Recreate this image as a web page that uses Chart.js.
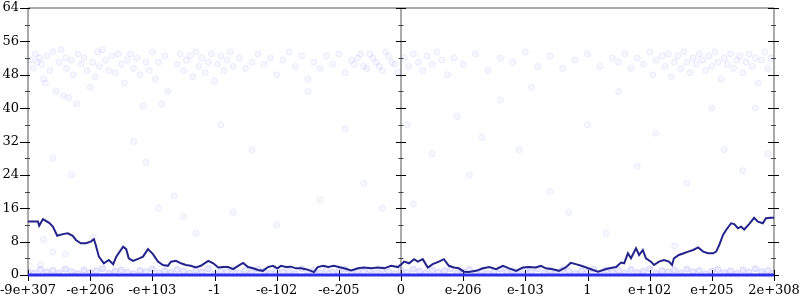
<!DOCTYPE html>
<html lang="en">
  <head>
    <meta charset="UTF-8" />
    <title>Float distribution</title>
    <style>
      body {
        margin: 0;
        padding: 0;
        background-color: white;
      }
      .chart-container {
        width: 800px;
        height: 300px;
      }
    </style>
  </head>
  <body>
    <div class="chart-container">
      <canvas id="myChart"></canvas>
    </div>
    <script src="https://cdn.jsdelivr.net/npm/chart.js@4.4.0/dist/chart.umd.min.js"></script>
    <script>
      // x positions are tick slots: -6 .. 6, one per label
      const xTickLabels = ["-9e+307", "-e+206", "-e+103", "-1", "-e-102", "-e-205", "0",
        "e-206", "e-103", "1", "e+102", "e+205", "2e+308"];
      const xMin = -6;
      const xMax = 6;
      const yMax = 64;
      const yStep = 8;
      const yMinorStep = 4;

      // dark running line
      const lineX = [-6.0, -5.84, -5.82, -5.76, -5.66, -5.6, -5.53, -5.44, -5.36, -5.28, -5.23, -5.15,
        -5.07, -4.99, -4.94, -4.91, -4.86, -4.78, -4.7, -4.63, -4.58, -4.47, -4.42, -4.38, -4.31,
        -4.21, -4.15, -4.07, -3.99, -3.91, -3.83, -3.75, -3.7, -3.62, -3.54, -3.46, -3.38, -3.3,
        -3.22, -3.1, -3.02, -2.94, -2.86, -2.78, -2.7, -2.62, -2.54, -2.46, -2.38, -2.3, -2.22,
        -2.14, -2.06, -1.99, -1.93, -1.85, -1.77, -1.69, -1.61, -1.53, -1.45, -1.4, -1.34, -1.25,
        -1.17, -1.08, -1.0, -0.92, -0.8, -0.69, -0.6, -0.48, -0.37, -0.27, -0.16, -0.05, 0.03,
        0.05, 0.13, 0.21, 0.27, 0.35, 0.43, 0.51, 0.61, 0.69, 0.77, 0.85, 0.93, 1.01, 1.09, 1.21,
        1.32, 1.42, 1.53, 1.64, 1.74, 1.85, 1.96, 2.06, 2.17, 2.25, 2.33, 2.44, 2.54, 2.65, 2.73,
        2.81, 2.9, 2.98, 3.09, 3.17, 3.25, 3.35, 3.46, 3.54, 3.59, 3.65, 3.7, 3.78, 3.83, 3.89,
        3.94, 4.02, 4.07, 4.15, 4.23, 4.31, 4.36, 4.39, 4.47, 4.55, 4.62, 4.7, 4.78, 4.86, 4.94,
        5.02, 5.07, 5.12, 5.18, 5.23, 5.31, 5.36, 5.42, 5.47, 5.52, 5.6, 5.68, 5.74, 5.82, 5.87,
        5.95, 6.0];
      const lineY = [12.8, 12.8, 11.8, 13.4, 12.5, 11.6, 9.4, 9.8, 10.0, 9.4, 8.4, 7.6,
        7.6, 8.0, 8.6, 7.2, 4.4, 2.8, 3.6, 2.6, 4.4, 6.8, 6.2, 4.0, 3.4,
        4.0, 4.4, 6.2, 5.0, 3.2, 2.4, 2.2, 3.2, 3.4, 2.8, 2.4, 2.2, 1.8,
        2.2, 3.4, 2.8, 1.8, 1.9, 1.9, 1.4, 2.2, 2.9, 1.9, 1.6, 1.2, 1.0,
        1.9, 2.2, 1.6, 2.2, 1.9, 2.0, 1.6, 1.6, 1.4, 1.0, 0.7, 1.9, 2.2,
        1.9, 2.2, 1.9, 1.6, 1.1, 1.6, 1.8, 1.6, 1.8, 1.6, 2.2, 1.9, 2.9,
        3.2, 2.8, 3.8, 3.2, 3.8, 1.8, 2.6, 3.2, 3.8, 2.2, 1.8, 1.6, 0.8, 0.7, 1.0,
        1.6, 1.9, 1.4, 2.2, 1.6, 1.0, 1.8, 1.9, 1.8, 2.2, 1.6, 1.4, 1.0, 1.8, 2.9,
        2.6, 2.2, 1.8, 1.2, 0.8, 1.2, 1.6, 1.9, 3.0, 2.8, 5.2, 4.0, 6.4, 4.8, 6.0,
        4.0, 3.2, 2.4, 3.2, 3.6, 3.2, 2.4, 4.0, 4.8, 5.2, 5.6, 6.0, 6.6, 5.6, 5.2,
        5.2, 5.6, 7.2, 9.6, 10.8, 12.4, 12.2, 11.2, 11.6, 10.9, 12.2, 13.7, 12.8, 12.4, 13.6,
        13.7, 13.7];

      // faint cloud of samples near the top
      const cloudX = [-5.95, -5.92, -5.88, -5.85, -5.82, -5.78, -5.75, -5.72, -5.7, -5.65, -5.6, -5.55,
        -5.5, -5.47, -5.43, -5.4, -5.38, -5.35, -5.3, -5.27, -5.22, -5.2, -5.15, -5.1, -5.05, -5.0,
        -4.96, -4.92, -4.88, -4.85, -4.8, -4.75, -4.7, -4.65, -4.6, -4.55, -4.5, -4.45, -4.4, -4.35,
        -4.3, -4.25, -4.2, -4.15, -4.1, -4.05, -4.0, -3.95, -3.9, -3.85, -3.8, -3.75,
        -3.6, -3.55, -3.5, -3.45, -3.4, -3.35, -3.3, -3.25, -3.2, -3.15, -3.1, -3.05, -3.0, -2.95,
        -2.9, -2.85, -2.8, -2.75, -2.7, -2.6, -2.5, -2.4, -2.3, -2.2, -2.1, -2.0, -1.9, -1.8, -1.7,
        -1.6, -1.5, -1.4, -1.3, -1.2, -1.1, -1.0, -0.9, -0.8, -0.7, -0.6, -0.5, -0.4, -0.3, -0.2, -0.1,
        -0.75, -0.65, -0.55, -0.45, -0.35, -0.25, -0.15, -0.05, 0.05, 0.12, 0.2, 0.28, 0.35, 0.42,
        0.5, 0.58, 0.66, 0.75, 0.85,
        1.0, 1.2, 1.4, 1.6, 1.8, 2.0, 2.2, 2.4, 2.6, 2.8, 3.0, 3.2, 3.4,
        3.5, 3.6, 3.7, 3.8, 3.9, 4.0, 4.05, 4.1, 4.2, 4.25, 4.3, 4.35, 4.4, 4.45, 4.5, 4.55, 4.6,
        4.65, 4.7, 4.75, 4.8, 4.85, 4.9, 4.95, 5.0, 5.05, 5.1, 5.15, 5.2, 5.25, 5.3, 5.35, 5.4,
        5.45, 5.5, 5.55, 5.6, 5.65, 5.7, 5.75, 5.8, 5.85, 5.9, 5.95];
      const cloudY = [51.5, 49.5, 53, 51, 52, 50.5, 47, 46, 52.5, 49, 53.5, 44,
        51, 54, 43, 52, 49.5, 42.5, 51.5, 48, 41, 53, 50.5, 52, 49, 45,
        51, 47.5, 53.5, 50, 54, 51.5, 49, 52.5, 48.5, 53, 50.5, 46, 51.5, 53,
        49.5, 52, 48, 40.5, 51, 49, 53.5, 47, 51, 41, 52.5, 44,
        50.5, 53, 49, 51.5, 52.5, 47.5, 53.5, 50, 52, 48.5, 51, 53, 46.5, 50.5,
        52.5, 49, 51.5, 53.5, 50, 52, 49.5, 51, 53, 50.5, 52, 48, 51.5, 53.5, 50,
        52.5, 47, 51, 49.5, 52.5, 50.5, 53, 48.5, 51.5, 52, 50, 53, 51, 49, 52.5, 50.5,
        50.5, 53, 49.5, 52, 50, 53.5, 51, 48.5, 52, 50, 53, 51, 49, 52.5,
        50.5, 53.5, 51.5, 48, 52,
        50.5, 53, 49, 52, 51, 53.5, 50, 52.5, 49.5, 51.5, 53, 50, 52,
        51, 53, 49.5, 52, 50.5, 53.5, 48, 51.5, 52.5, 50, 53, 47.5, 51, 52.5, 49.5, 53.5, 51,
        48.5, 52, 50.5, 53, 51.5, 49, 52.5, 50, 53.5, 51, 47, 52, 50.5, 53, 49.5, 51.5,
        52.5, 48.5, 51, 53, 50, 52, 46, 51.5, 53.5, 49.5, 52];

      // stray samples in the middle of the range
      const strayX = [-5.6, -5.3, -5.75, -5.6, -5.4, -4.95, -5.8, -4.3, -4.1, -3.9, -3.65, -3.5, -3.3,
        -2.9, -2.7, -2.4, -2.0, -1.5, -1.3, -0.9, -0.6, -0.3, 0.1, 0.2, 0.5, 0.9, 1.1, 1.3, 1.6,
        1.9, 2.1, 2.4, 2.7, 3.0, 3.3, 3.5, 3.8, 4.1, 4.4, 4.6, 5.0, 5.2, 5.5, 5.7, 5.9];
      const strayY = [28, 24, 8.5, 5.5, 5, 9, 2.5, 32, 27, 16, 19, 14, 10,
        36, 15, 30, 12, 44, 18, 35, 22, 16, 36, 17, 29, 38, 24, 33, 42,
        30, 45, 20, 15, 36, 10, 44, 26, 34, 7, 22, 40, 30, 25, 40, 29];

      // dense band of samples just above zero
      const bandX = [-6.0, -5.9, -5.8, -5.7, -5.6, -5.5, -5.4, -5.3, -5.2, -5.1,
        -5.0, -4.9, -4.8, -4.7, -4.6, -4.5, -4.4, -4.3, -4.2, -4.1,
        -4.0, -3.9, -3.8, -3.7, -3.6, -3.5, -3.4, -3.3, -3.2, -3.1,
        -3.0, -2.9, -2.8, -2.7, -2.6, -2.5, -2.4, -2.3, -2.2, -2.1,
        -2.0, -1.9, -1.8, -1.7, -1.6, -1.5, -1.4, -1.3, -1.2, -1.1,
        -1.0, -0.9, -0.8, -0.7, -0.6, -0.5, -0.4, -0.3, -0.2, -0.1,
        0.0, 0.1, 0.2, 0.3, 0.4, 0.5, 0.6, 0.7, 0.8, 0.9,
        1.0, 1.1, 1.2, 1.3, 1.4, 1.5, 1.6, 1.7, 1.8, 1.9,
        2.0, 2.1, 2.2, 2.3, 2.4, 2.5, 2.6, 2.7, 2.8, 2.9,
        3.0, 3.1, 3.2, 3.3, 3.4, 3.5, 3.6, 3.7, 3.8, 3.9,
        4.0, 4.1, 4.2, 4.3, 4.4, 4.5, 4.6, 4.7, 4.8, 4.9,
        5.0, 5.1, 5.2, 5.3, 5.4, 5.5, 5.6, 5.7, 5.8, 5.9, 6.0];
      const bandY = [0.9, 0.4, 1.3, 0.7, 1.1, 0.5, 1.4, 0.8, 0.3, 1.2,
        0.6, 1.0, 1.5, 0.4, 0.9, 1.2, 0.7, 0.3, 1.1, 0.8,
        1.4, 0.5, 1.0, 0.6, 1.3, 0.9, 0.4, 1.2, 0.7, 1.5,
        0.3, 1.0, 0.8, 1.3, 0.5, 1.1, 0.6, 1.4, 0.9, 0.4,
        1.2, 0.7, 1.0, 0.3, 1.5, 0.8, 1.1, 0.5, 1.3, 0.6,
        0.9, 1.4, 0.4, 1.0, 0.7, 1.2, 0.5, 1.3, 0.8, 0.3,
        1.1, 0.6, 1.4, 0.9, 0.4, 1.2, 0.7, 1.0, 1.5, 0.5,
        0.8, 1.3, 0.6, 1.1, 0.4, 0.9, 1.4, 0.7, 1.0, 0.3,
        1.2, 0.8, 1.5, 0.5, 1.1, 0.6, 1.3, 0.9, 0.4, 1.0,
        0.7, 1.4, 0.3, 1.2, 0.8, 1.1, 0.5, 1.3, 0.6, 0.9,
        1.5, 0.4, 1.0, 0.7, 1.2, 0.5, 1.4, 0.8, 1.1, 0.3,
        0.9, 1.3, 0.6, 1.0, 0.4, 1.2, 0.7, 1.5, 0.8, 1.1, 0.6];

      const baseX = [xMin, xMax];
      const baseY = [0, 0];

      const toPoints = (xs, ys) => xs.map((x, i) => ({ x: x, y: ys[i] }));

      const dotStyle = {
        showLine: false,
        pointRadius: 3,
        pointBorderWidth: 1,
        pointBackgroundColor: "rgba(90, 90, 255, 0.05)",
        pointBorderColor: "rgba(90, 90, 255, 0.1)",
      };

      const bandStyle = Object.assign({}, dotStyle, {
        pointBackgroundColor: "rgba(90, 90, 255, 0.12)",
        pointBorderColor: "rgba(90, 90, 255, 0.2)",
      });

      const serif = { family: "DejaVu Serif", size: 13 };

      // grey frame, centre line and the crossing tick marks (all taken from the scales)
      const framePlugin = {
        id: "frame",
        beforeDatasetsDraw(chart) {
          const { ctx, scales } = chart;
          const x = scales.x;
          const y = scales.y;
          const left = x.getPixelForValue(xMin);
          const right = x.getPixelForValue(xMax);
          const mid = x.getPixelForValue(0);
          const top = y.getPixelForValue(yMax);
          const bottom = y.getPixelForValue(0);
          ctx.save();
          ctx.strokeStyle = "#aaaaaa";
          ctx.lineWidth = 2;
          ctx.beginPath();
          ctx.moveTo(left, top);
          ctx.lineTo(right, top);
          [left, mid, right].forEach((px) => {
            ctx.moveTo(px, top);
            ctx.lineTo(px, bottom);
          });
          ctx.stroke();

          for (let v = 0; v <= yMax; v += yMinorStep) {
            const py = Math.round(y.getPixelForValue(v)) + 0.5;
            const major = v % yStep === 0;
            ctx.strokeStyle = major ? "#000" : "#444";
            ctx.lineWidth = 1;
            ctx.beginPath();
            ctx.moveTo(left - (major ? 8 : 3), py);
            ctx.lineTo(left + 2, py);
            ctx.moveTo(mid - (major ? 5 : 2.5), py);
            ctx.lineTo(mid + (major ? 5 : 2.5), py);
            ctx.moveTo(right - (major ? 6 : 3), py);
            ctx.lineTo(right + (major ? 5 : 2), py);
            ctx.stroke();
          }

          ctx.strokeStyle = "#000";
          ctx.beginPath();
          x.ticks.forEach((t) => {
            const px = Math.round(x.getPixelForValue(t.value)) + 0.5;
            ctx.moveTo(px, bottom - 5);
            ctx.lineTo(px, bottom + 6);
          });
          ctx.stroke();
          ctx.restore();
        },
      };

      const data = {
        datasets: [
          {
            label: "running",
            data: toPoints(lineX, lineY),
            showLine: true,
            borderColor: "#23238c",
            borderWidth: 2,
            pointRadius: 0,
          },
          {
            label: "zero",
            data: toPoints(baseX, baseY),
            showLine: true,
            borderColor: "#2e2eec",
            borderWidth: 3,
            pointRadius: 0,
            clip: 2,
          },
          Object.assign({ label: "band", data: toPoints(bandX, bandY) }, bandStyle),
          Object.assign({ label: "stray", data: toPoints(strayX, strayY) }, dotStyle),
          Object.assign({ label: "cloud", data: toPoints(cloudX, cloudY) }, dotStyle),
        ],
      };

      const config = {
        type: "scatter",
        data: data,
        plugins: [framePlugin],
        options: {
          responsive: false,
          animation: false,
          layout: { padding: { top: 0, left: 0, bottom: 0, right: 26 } },
          plugins: {
            legend: { display: false },
            tooltip: { enabled: false },
          },
          scales: {
            x: {
              type: "linear",
              min: xMin,
              max: xMax,
              grid: { display: false, drawTicks: false },
              border: { display: false },
              afterFit: (scale) => {
                scale.height = 25;
                scale.paddingLeft = 0;
                scale.paddingRight = 0;
              },
              ticks: {
                stepSize: 1,
                autoSkip: false,
                maxRotation: 0,
                padding: 8,
                color: "#000",
                font: serif,
                callback: (v) => xTickLabels[v - xMin],
              },
            },
            y: {
              min: 0,
              max: yMax,
              grid: { display: false, drawTicks: false },
              border: { display: false },
              afterFit: (scale) => {
                scale.width = 28;
                scale.paddingTop = 8;
                scale.paddingBottom = 0;
              },
              ticks: {
                stepSize: yStep,
                padding: 9,
                color: "#000",
                font: serif,
              },
            },
          },
        },
      };

      const canvas = document.getElementById("myChart");
      canvas.width = 800;
      canvas.height = 300;
      const myChart = new Chart(canvas.getContext("2d"), config);
    </script>
  </body>
</html>
